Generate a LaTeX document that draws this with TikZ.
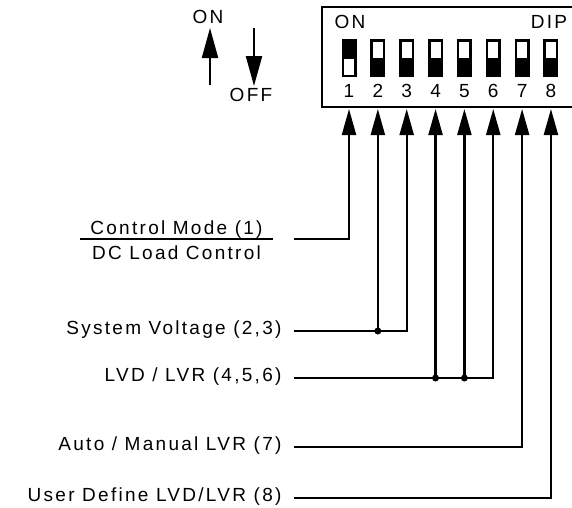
\documentclass[tikz,border=0pt]{standalone}
\usepackage{fontspec}
\setmainfont{Liberation Sans}[LetterSpace=12]
\usetikzlibrary{arrows.meta}
\tikzset{wire/.style = {line width=2.2pt},
         pintip/.style = {-{Triangle[length=26pt,width=14pt]}},
         bigtip/.style = {-{Triangle[length=30pt,width=16pt]}},
         jdot/.style = {fill, circle, inner sep = 0, minimum size = 7}}

\begin{document}
\begin{tikzpicture}[x=1pt,y=-1pt,font=\fontsize{19}{22}\selectfont]
      \useasboundingbox (0,0) rectangle (572,507);
      % switch housing
      \draw[line width=2.6pt] (322,7) rectangle (584,107);
      \node (onlabel) at (350,22) {ON};
      \node (diplabel) at (549,22) {DIP};
      \foreach \i in {1,...,8} {
        \pgfmathsetmacro{\xx}{349+(\i-1)*28.85}
        \fill (\xx-7.5,39) rectangle (\xx+7.5,77);
        \ifnum\i=1
          \fill[white] (\xx-5,58.5) rectangle (\xx+5,74.5);
        \else
          \fill[white] (\xx-5,41.5) rectangle (\xx+5,57.5);
        \fi
        \node (num\i) at (\xx,91) {\i};
        \coordinate (tip\i) at (\xx,109);
      }

      % ON / OFF arrows
      \coordinate (upfoot) at (210,85);
      \coordinate (uphead) at (210,28);
      \coordinate (downtop) at (254,28);
      \coordinate (downhead) at (254,86);
      \draw[wire,bigtip] (upfoot) -- (uphead);
      \draw[wire,bigtip] (downtop) -- (downhead);
      \node (ontext) at (208,17) {ON};
      \node (offtext) at (251,95) {OFF};

      % labels
      \node[anchor=base] (ctrlmode) at (176.5,234) {Control Mode (1)};
      \node[anchor=base] (dcload) at (176.5,259) {DC Load Control};
      \draw[wire] (80,239) -- (273,239);
      \node[anchor=base east] (sysvolt) at (285,334) {System Voltage (2,3)};
      \node[anchor=base east] (lvdlvr) at (285,381) {LVD / LVR (4,5,6)};
      \node[anchor=base east] (automan) at (285,450) {Auto / Manual LVR (7)};
      \node[anchor=base east] (userdef) at (285,501) {User Define LVD/LVR (8)};

      % connectors
      \coordinate (in1) at (294,239);
      \coordinate (in23) at (294,331);
      \coordinate (in456) at (294,378);
      \coordinate (in7) at (294,447);
      \coordinate (in8) at (294,498);
      \draw[wire,pintip] (in1) -| (tip1);
      \draw[wire,pintip] (in23) -| (tip3);
      \draw[wire,pintip] (tip2 |- in23) -- (tip2);
      \draw[wire,pintip] (in456) -| (tip6);
      \draw[wire,pintip] (tip4 |- in456) -- (tip4);
      \draw[wire,pintip] (tip5 |- in456) -- (tip5);
      \draw[wire,pintip] (in7) -| (tip7);
      \draw[wire,pintip] (in8) -| (tip8);
      \node[jdot] (dot2) at (tip2 |- in23) {};
      \node[jdot] (dot4) at (tip4 |- in456) {};
      \node[jdot] (dot5) at (tip5 |- in456) {};
    \end{tikzpicture}
\end{document}
